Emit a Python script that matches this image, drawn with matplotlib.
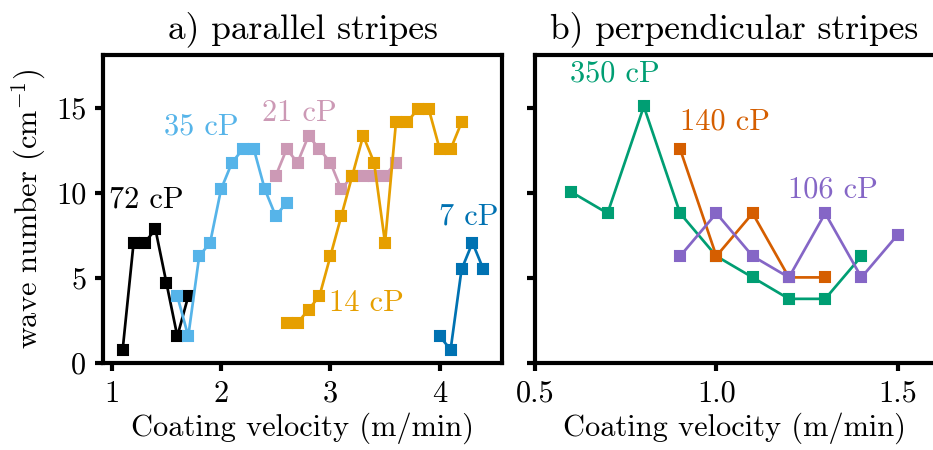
import matplotlib
matplotlib.use("Agg")
import matplotlib.pyplot as plt

plt.rcParams['font.family'] = 'serif'
plt.rcParams['font.serif'] = ['cmr10', 'DejaVu Serif']
plt.rcParams['mathtext.fontset'] = 'cm'
plt.rcParams['axes.unicode_minus'] = False
plt.rcParams['axes.formatter.use_mathtext'] = True

# ---- data: a) parallel stripes ----
v72 = [1.1, 1.2, 1.3, 1.4, 1.5, 1.6, 1.7]
k72 = [0.79, 7.07, 7.07, 7.85, 4.71, 1.57, 3.93]

v35 = [1.6, 1.7, 1.8, 1.9, 2.0, 2.1, 2.2, 2.3, 2.4, 2.5, 2.6]
k35 = [3.93, 1.57, 6.28, 7.07, 10.21, 11.78, 12.57, 12.57, 10.21, 8.64, 9.42]

v21 = [2.5, 2.6, 2.7, 2.8, 2.9, 3.0, 3.1, 3.2, 3.3, 3.4, 3.5, 3.6]
k21 = [11.0, 12.57, 11.78, 13.35, 12.57, 11.78, 10.21, 11.0, 11.0, 11.0, 11.0, 11.78]

v14 = [2.6, 2.7, 2.8, 2.9, 3.0, 3.1, 3.2, 3.3, 3.4, 3.5, 3.6, 3.7, 3.8, 3.9, 4.0, 4.1, 4.2]
k14 = [2.36, 2.36, 3.14, 3.93, 6.28, 8.64, 11.0, 13.35, 11.78, 7.07, 14.14, 14.14,
       14.92, 14.92, 12.57, 12.57, 14.14]

v7 = [4.0, 4.1, 4.2, 4.3, 4.4]
k7 = [1.57, 0.79, 5.50, 7.07, 5.50]

# ---- data: b) perpendicular stripes ----
v350 = [0.6, 0.7, 0.8, 0.9, 1.0, 1.1, 1.2, 1.3, 1.4]
k350 = [10.05, 8.80, 15.08, 8.80, 6.28, 5.03, 3.77, 3.77, 6.28]

v140 = [0.9, 1.0, 1.1, 1.2, 1.3]
k140 = [12.57, 6.28, 8.80, 5.03, 5.03]

v106 = [0.9, 1.0, 1.1, 1.2, 1.3, 1.4, 1.5]
k106 = [6.28, 8.80, 6.28, 5.03, 8.80, 5.03, 7.54]

left_series = [
    (v72, k72, 'black', '72 cP', 1.32, 9.6),
    (v35, k35, '#56B4E9', '35 cP', 1.82, 13.9),
    (v21, k21, '#CC99B5', '21 cP', 2.72, 14.7),
    (v14, k14, '#E69F00', '14 cP', 3.33, 3.5),
    (v7, k7, '#0072B2', '7 cP', 4.27, 8.6),
]
right_series = [
    (v350, k350, '#009E73', '350 cP', 0.72, 17.0),
    (v140, k140, '#D55E00', '140 cP', 1.024, 14.2),
    (v106, k106, '#8566C6', '106 cP', 1.322, 10.2),
]

fig = plt.figure(figsize=(933 / 150, 450 / 150), dpi=150)
ax1 = fig.add_axes([103 / 933, 87 / 450, 399 / 933, 308 / 450])
ax2 = fig.add_axes([535 / 933, 87 / 450, 399 / 933, 308 / 450], sharey=ax1)

fs = 14.6
for ax, series in ((ax1, left_series), (ax2, right_series)):
    for v, k, c, lab, tx, ty in series:
        ax.plot(v, k, color=c, marker='s', markersize=4.8, lw=1.3)
        ax.text(tx, ty, lab, color=c, fontsize=fs, ha='center', va='center')
    for s in ax.spines.values():
        s.set_linewidth(2.0)
    ax.tick_params(direction='out', length=4, width=2.0, labelsize=fs, pad=4)
    ax.set_xlabel('Coating velocity (m/min)', fontsize=fs, labelpad=2)

ax1.set_xlim(0.92, 4.57)
ax1.set_ylim(0, 18.1)
ax1.set_xticks([1, 2, 3, 4])
ax1.set_yticks([0, 5, 10, 15])
ax1.set_xticklabels(['1', '2', '3', '4'])
ax1.set_yticklabels(['0', '5', '10', '15'])
ax1.set_ylabel('wave number (cm$^{-1}$)', fontsize=fs)
ax1.set_title('a) parallel stripes', fontsize=17, pad=8)

ax2.set_xlim(0.5, 1.6)
ax2.set_xticks([0.5, 1.0, 1.5])
ax2.set_xticklabels(['0.5', '1.0', '1.5'])
ax2.tick_params(labelleft=False)
ax2.set_title('b) perpendicular stripes', fontsize=17, pad=8)

fig.savefig('out.png', dpi=150)
